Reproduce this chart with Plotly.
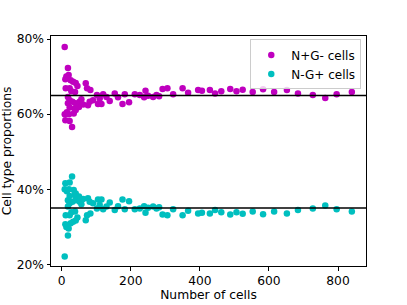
import plotly.graph_objects as go

# Number of cells per sample
n_cells = [8.7, 8.7, 10.6, 10.6, 11.6, 13.5, 15, 18, 18, 18, 20, 21, 23, 23, 23, 23,
           26, 28, 30, 31, 33, 34.8, 37.7, 38.6, 40.6, 40.6, 40.6, 45.5, 50, 52, 57, 62,
           69.6, 73.4, 76, 81, 83, 90.7, 102, 105, 110, 115, 120, 129.6, 139, 153.6,
           163, 176, 182.6, 195, 211.6, 226, 238.6, 242.6, 250, 264.6, 274.5, 282, 292,
           306, 322.6, 350, 366, 395, 406, 429, 444, 462, 488, 506, 524, 553, 583, 615,
           652, 684, 727, 763, 796, 840]

# N+G- cell proportion (%)
npg_minus = [77.9, 60.0, 69.3, 58.4, 66.9, 70.0, 60.5, 72.3, 64.6, 62.9, 70.4, 60.0, 66.9,
             63.7, 61.8, 58.2, 69.0, 66.1, 56.6, 63.3, 68.6, 60.2, 61.5, 65.9, 68.3, 62.9,
             61.1, 67.5, 61.9, 63.3, 64.0, 62.6, 68.2, 66.9, 62.4, 63.3, 66.4, 63.7, 65.1,
             62.7, 64.2, 62.7, 65.3, 64.6, 63.5, 65.5, 64.5, 62.7, 65.3, 63.2, 65.3, 65.1,
             64.5, 66.2, 64.9, 64.6, 65.1, 64.8, 66.7, 66.9, 65.3, 66.9, 65.7, 66.4, 66.2,
             66.4, 65.5, 66.1, 66.7, 66.1, 66.5, 65.9, 66.6, 65.9, 66.4, 65.5, 65.1, 64.3,
             65.3, 65.9]

# N-G+ cell proportion (%)
ngp_plus = [22.1, 40.0, 30.7, 41.6, 33.1, 30.0, 39.5, 27.7, 35.4, 37.1, 29.6, 40.0, 33.1,
            36.3, 38.2, 41.8, 31.0, 33.9, 43.4, 36.7, 31.4, 39.8, 38.5, 34.1, 31.7, 37.1,
            38.9, 32.5, 38.1, 36.7, 36.0, 37.4, 31.8, 33.1, 37.6, 36.7, 33.6, 36.3, 34.9,
            37.3, 35.8, 37.3, 34.7, 35.4, 36.5, 34.5, 35.5, 37.3, 34.7, 36.8, 34.7, 34.9,
            35.5, 33.8, 35.1, 35.4, 34.9, 35.2, 33.3, 33.1, 34.7, 33.1, 34.3, 33.6, 33.8,
            33.6, 34.5, 33.9, 33.3, 33.9, 33.5, 34.1, 33.4, 34.1, 33.6, 34.5, 34.9, 35.7,
            34.7, 34.1]

reference_levels = [65, 35]

x_ticks = [0, 200, 400, 600, 800]
y_ticks = [20, 40, 60, 80]
y_tick_labels = ["20%", "40%", "60%", "80%"]

MAGENTA = "#bf00bf"
CYAN = "#00bfbf"
FONT = "DejaVu Sans"
FS = 12.3

fig = go.Figure()
fig.add_trace(go.Scatter(x=n_cells, y=npg_minus, mode="markers", name="N+G- cells",
                         marker=dict(color=MAGENTA, size=6.5, line=dict(width=0))))
fig.add_trace(go.Scatter(x=n_cells, y=ngp_plus, mode="markers", name="N-G+ cells",
                         marker=dict(color=CYAN, size=6.5, line=dict(width=0))))

for lvl in reference_levels:
    fig.add_shape(type="line", xref="paper", x0=0, x1=1, yref="y", y0=lvl, y1=lvl,
                  line=dict(color="black", width=1.5), layer="above")

axis_common = dict(showline=True, linecolor="black", linewidth=1, mirror=True,
                   ticks="outside", ticklen=3.5, tickcolor="black", tickwidth=1,
                   showgrid=False, zeroline=False, automargin=False,
                   tickfont=dict(family=FONT, size=FS, color="black"))

fig.update_layout(
    width=407, height=305,
    margin=dict(l=51, r=41, t=36, b=39),
    paper_bgcolor="white", plot_bgcolor="white",
    font=dict(family=FONT, size=FS, color="black"),
    xaxis=dict(range=[-31, 881], tickmode="array", tickvals=x_ticks,
               title=dict(text="Number of cells", font=dict(family=FONT, size=FS), standoff=2),
               **axis_common),
    yaxis=dict(range=[19.6, 80.8], tickmode="array", tickvals=y_ticks, ticktext=y_tick_labels,
               title=dict(text="Cell type proportions", font=dict(family=FONT, size=FS), standoff=2),
               **axis_common),
    legend=dict(x=0.985, y=0.985, xanchor="right", yanchor="top",
                bgcolor="rgba(255,255,255,0.8)", bordercolor="#cccccc", borderwidth=1,
                font=dict(family=FONT, size=12), tracegroupgap=0),
    showlegend=True,
)

fig.write_html("out.html", config={"displayModeBar": False},
               post_script="document.body.style.margin='0';document.body.style.padding='0';")
